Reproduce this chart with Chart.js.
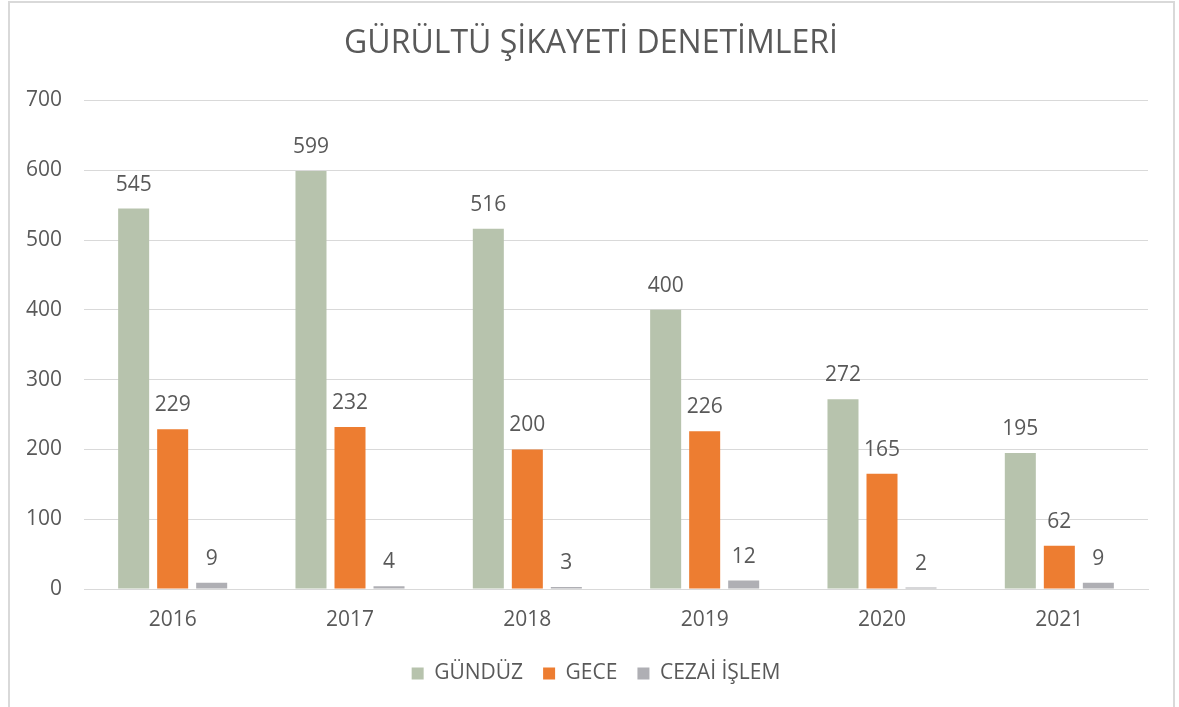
<!DOCTYPE html>
<html>
<head>
<meta charset="utf-8">
<script src="https://cdn.jsdelivr.net/npm/chart.js@4.4.1/dist/chart.umd.min.js"></script>
<style>
  html, body { margin: 0; padding: 0; background: #fff; }
  #wrap { position: relative; width: 1179px; height: 707px; overflow: hidden; }
  #frame { position: absolute; left: 8px; top: 1px; width: 1167px; height: 720px; border: 2px solid #d9d9d9; box-sizing: border-box; pointer-events: none; }
  canvas { position: absolute; left: 0; top: 0; }
</style>
</head>
<body>
<div id="wrap">
  <canvas id="c" width="1179" height="707"></canvas>
  <div id="frame"></div>
</div>
<script>
const chartTitle = "GÜRÜLTÜ ŞİKAYETİ DENETİMLERİ";
const categories = ["2016", "2017", "2018", "2019", "2020", "2021"];
const seriesNames = ["GÜNDÜZ", "GECE", "CEZAİ İŞLEM"];
const gunduz = [545, 599, 516, 400, 272, 195];
const gece = [229, 232, 200, 226, 165, 62];
const cezai = [9, 4, 3, 12, 2, 9];
const yTicks = [0, 100, 200, 300, 400, 500, 600, 700];

const textColor = "#595959";
const fontFamily = "'Open Sans', sans-serif";

const dataLabels = {
  id: "dataLabels",
  afterDatasetsDraw(chart) {
    const ctx = chart.ctx;
    ctx.save();
    ctx.fillStyle = textColor;
    ctx.font = "21px " + fontFamily;
    ctx.textAlign = "center";
    ctx.textBaseline = "alphabetic";
    chart.data.datasets.forEach((ds, i) => {
      const meta = chart.getDatasetMeta(i);
      meta.data.forEach((el, j) => {
        ctx.fillText(String(ds.data[j]), el.x, el.y - 18);
      });
    });
    ctx.restore();
  }
};

const shiftBlocks = {
  id: "shiftBlocks",
  afterLayout(chart) {
    if (chart.legend) { chart.legend.left += 15; chart.legend.right += 15; }
    if (chart.titleBlock) { chart.titleBlock.left += 10; chart.titleBlock.right += 10; }
  }
};

new Chart(document.getElementById("c"), {
  type: "bar",
  data: {
    labels: categories,
    datasets: [
      { label: seriesNames[0], data: gunduz, backgroundColor: "#b7c3ad" },
      { label: seriesNames[1], data: gece, backgroundColor: "#ed7d31" },
      { label: seriesNames[2], data: cezai, backgroundColor: "#afafb4" }
    ]
  },
  options: {
    responsive: false,
    animation: false,
    devicePixelRatio: 1,
    datasets: { bar: { categoryPercentage: 0.66, barPercentage: 0.795 } },
    layout: { padding: { left: 14, right: 31, top: 0, bottom: 13 } },
    scales: {
      x: {
        afterFit(scale) { scale.height = 54; },
        grid: { display: false, drawTicks: false },
        border: { display: true, color: "#d9d9d9", width: 1 },
        ticks: { color: textColor, font: { family: fontFamily, size: 21 }, padding: 18 }
      },
      y: {
        min: 0, max: 700,
        afterFit(scale) { scale.width = 70; },
        afterBuildTicks(scale) { scale.ticks = yTicks.map(v => ({ value: v })); },
        grid: { color: "#d9d9d9", lineWidth: 1, drawTicks: false },
        border: { display: false },
        ticks: { color: textColor, font: { family: fontFamily, size: 21 }, padding: 22 }
      }
    },
    plugins: {
      title: {
        display: true, text: chartTitle, color: textColor,
        font: { family: fontFamily, size: 32, weight: "normal", lineHeight: 1.2 },
        padding: { top: 25, bottom: 37 }
      },
      legend: {
        position: "bottom",
        labels: { color: textColor, font: { family: fontFamily, size: 21 }, boxWidth: 12, boxHeight: 12, padding: 20 }
      },
      tooltip: { enabled: false }
    }
  },
  plugins: [dataLabels, shiftBlocks]
});
</script>
</body>
</html>
